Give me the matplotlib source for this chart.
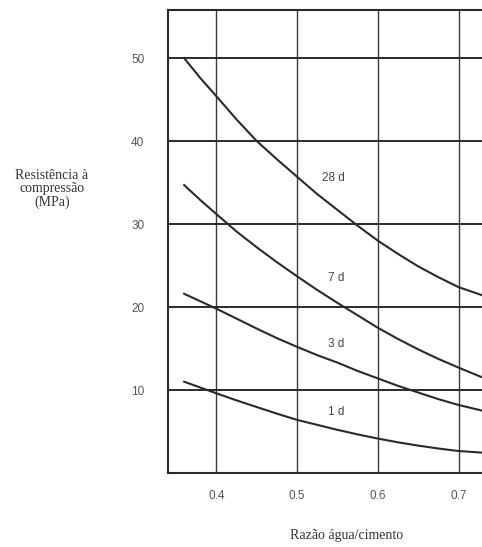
import matplotlib
matplotlib.use("Agg")
import matplotlib.pyplot as plt

wc = [0.36, 0.38, 0.40, 0.425, 0.45, 0.475, 0.50, 0.525, 0.55, 0.575, 0.60, 0.625, 0.65, 0.675, 0.70, 0.73]
s28 = [50.0, 47.6, 45.4, 42.6, 40.0, 37.8, 35.7, 33.6, 31.7, 29.8, 28.0, 26.4, 24.9, 23.6, 22.4, 21.4]
s7 = [34.7, 32.9, 31.2, 29.1, 27.2, 25.4, 23.7, 22.05, 20.5, 19.0, 17.5, 16.15, 14.9, 13.75, 12.7, 11.5]
s3 = [21.6, 20.7, 19.8, 18.6, 17.4, 16.25, 15.2, 14.2, 13.3, 12.3, 11.4, 10.5, 9.7, 8.9, 8.2, 7.5]
s1 = [11.0, 10.3, 9.6, 8.75, 7.95, 7.15, 6.4, 5.8, 5.2, 4.65, 4.15, 3.7, 3.3, 2.95, 2.65, 2.45]
series = [("28 d", s28), ("7 d", s7), ("3 d", s3), ("1 d", s1)]
label_pos = {"28 d": (0.545, 35.5), "7 d": (0.548, 23.5), "3 d": (0.548, 15.5), "1 d": (0.548, 7.4)}
xticks = [0.4, 0.5, 0.6, 0.7]
xticklabels = ["0.4", "0.5", "0.6", "0.7"]
yticks = [10, 20, 30, 40, 50]

fig = plt.figure(figsize=(4.82, 5.47), dpi=100)
ax = fig.add_axes([168/482, 1-473/547, 1-168/482+0.01, (473-10)/547])
ax.set_xlim(0.34, 0.735)
ax.set_ylim(0, 55.8)

lc = "#2a2a2a"
for x in xticks:
    ax.axvline(x, color="#3a3a3a", lw=1.0, zorder=1)
for y in yticks:
    ax.axhline(y, color="#2a2a2a", lw=1.4, zorder=1)

for name, vals in series:
    ax.plot(wc, vals, color=lc, lw=1.5, zorder=3, solid_joinstyle="round")
    lx, ly = label_pos[name]
    ax.text(lx, ly, name, fontsize=8.5, color="#444444", ha="center", va="center",
            family="Liberation Sans", zorder=4)

for side in ["left", "bottom", "top"]:
    ax.spines[side].set_color("#2a2a2a")
    ax.spines[side].set_linewidth(1.5)
ax.spines["right"].set_visible(False)

ax.set_xticks(xticks)
ax.set_xticklabels(xticklabels)
ax.set_yticks(yticks)
ax.tick_params(length=0, labelsize=8.5, colors="#555555", pad=12)
ax.tick_params(axis="y", pad=17)
for lab in ax.get_xticklabels() + ax.get_yticklabels():
    lab.set_family("Liberation Sans")

fig.text(52/482, 1-189/547, "Resistência à\ncompressão\n(MPa)", ha="center", va="center",
         family="Liberation Serif", fontsize=10, color="#333333", linespacing=1.0)
fig.text(347/482, 1-535/547, "Razão água/cimento", ha="center", va="center",
         family="Liberation Serif", fontsize=10, color="#333333")

fig.savefig("out.png", dpi=100)
